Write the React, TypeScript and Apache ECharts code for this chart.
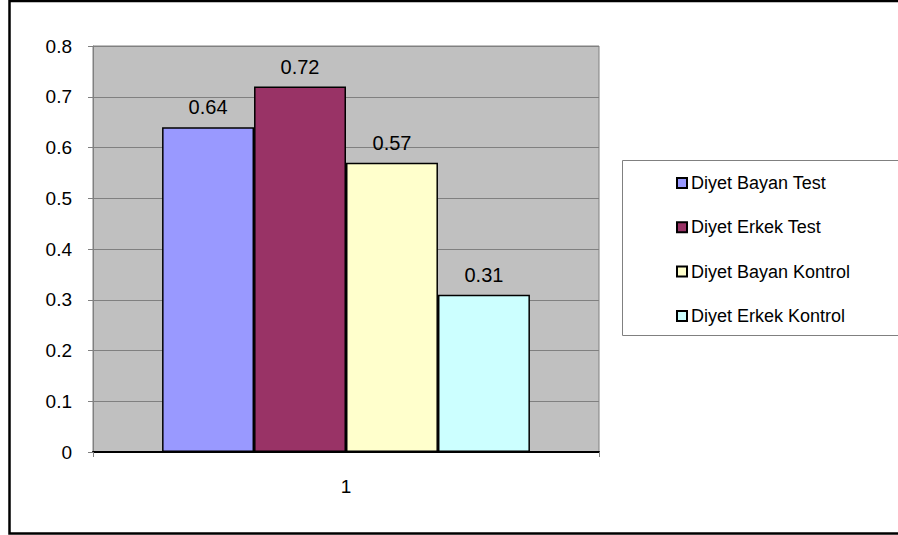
import React, { useEffect, useRef } from "react";
import * as echarts from "echarts";

const categories = ["1"];
const seriesNames = ["Diyet Bayan Test", "Diyet Erkek Test", "Diyet Bayan Kontrol", "Diyet Erkek Kontrol"];
const seriesValues = [0.64, 0.72, 0.57, 0.31];
const seriesColors = ["#9999FF", "#993366", "#FFFFCC", "#CCFFFF"];

const FONT = "'Liberation Sans', Arial, sans-serif";

export default function App() {
  const ref = useRef<HTMLDivElement>(null);
  useEffect(() => {
    document.body.style.margin = "0";
    const chart = echarts.init(ref.current!, null, { renderer: "svg" });
    chart.setOption({
      animation: false,
      backgroundColor: "#FFFFFF",
      textStyle: { fontFamily: FONT },
      grid: {
        left: 93,
        top: 46,
        right: 299,
        bottom: 83,
        show: true,
        backgroundColor: "#C0C0C0",
        borderColor: "#808080",
        borderWidth: 1,
      },
      xAxis: {
        type: "category",
        data: categories,
        axisLine: { lineStyle: { color: "#000000", width: 2 } },
        axisTick: { show: true, length: 5, lineStyle: { color: "#808080" } },
        axisLabel: { color: "#000000", fontSize: 19, fontFamily: FONT, margin: 25 },
      },
      yAxis: {
        type: "value",
        min: 0,
        max: 0.8,
        interval: 0.1,
        axisLine: { show: true, lineStyle: { color: "#808080", width: 1 } },
        axisTick: { show: true, length: 5, lineStyle: { color: "#808080" } },
        axisLabel: { color: "#000000", fontSize: 19, fontFamily: FONT, margin: 21 },
        splitLine: { show: true, lineStyle: { color: "#808080", width: 1 } },
      },
      legend: {
        orient: "vertical",
        left: 676,
        top: 173,
        padding: 0,
        itemWidth: 10,
        itemHeight: 10,
        itemGap: 24.3,
        icon: "rect",
        textStyle: { color: "#000000", fontSize: 18, fontFamily: FONT, lineHeight: 20, padding: [0, 0, 0, -1] },
        data: seriesNames,
      },
      graphic: [
        {
          type: "rect",
          shape: { x: 622.5, y: 160.5, width: 300, height: 175 },
          style: { fill: "none", stroke: "#808080", lineWidth: 1 },
          silent: true,
        },
        {
          type: "rect",
          shape: { x: 9.5, y: 1, width: 900, height: 532.5 },
          style: { fill: "none", stroke: "#000000", lineWidth: 2.5 },
          silent: true,
        },
      ],
      series: seriesNames.map((name, i) => ({
        name,
        type: "bar",
        barGap: "0%",
        barCategoryGap: "27.3%",
        data: [seriesValues[i]],
        itemStyle: { color: seriesColors[i], borderColor: "#000000", borderWidth: 1.5 },
        label: {
          show: true,
          position: "top",
          distance: 10,
          color: "#000000",
          fontSize: 20,
          fontFamily: FONT,
        },
      })),
    });
    return () => chart.dispose();
  }, []);
  return <div ref={ref} style={{ width: 898, height: 535 }} />;
}
